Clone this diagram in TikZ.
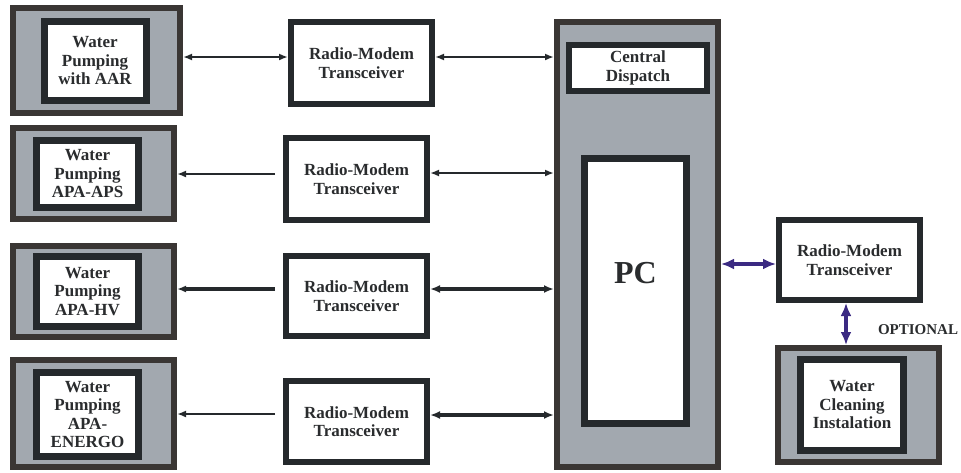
\documentclass[tikz,border=0pt]{standalone}
\usepackage{fontspec}
\setmainfont{Liberation Serif}
\usetikzlibrary{arrows.meta,positioning}
\definecolor{WPFrame}{HTML}{3A3634}
\definecolor{WPGray}{HTML}{A2A8AF}
\definecolor{WPDark}{HTML}{25292C}
\definecolor{WPText}{HTML}{2A2C2E}
\definecolor{WPPurple}{HTML}{3B2A82}

\begin{document}
\begin{tikzpicture}[
  x=1pt,y=-1pt,
  outer/.style={draw=WPFrame,fill=WPGray,line width=6pt,inner sep=0pt},
  inner/.style={draw=WPDark,fill=white,line width=7pt,inner sep=0pt,minimum width=102pt,align=center,text=WPText,font=\bfseries\fontsize{17}{18.5}\selectfont},
  modem/.style={draw=WPDark,fill=white,line width=6pt,inner sep=0pt,minimum width=141pt,align=center,text=WPText,font=\bfseries\fontsize{17}{18.5}\selectfont},
  link/.style={{Latex[length=9pt,width=7pt]}-{Latex[length=9pt,width=7pt]},draw=WPDark,line width=2.5pt},
  fat/.style={{Latex[length=10pt,width=8pt]}-{Latex[length=10pt,width=8pt]},draw=WPDark,line width=4.3pt},
  back/.style={-{Latex[length=9pt,width=7pt]},draw=WPDark,line width=2.7pt},
  optlink/.style={{Latex[length=13pt,width=11pt]}-{Latex[length=13pt,width=11pt]},draw=WPPurple,line width=3.5pt}
]
\useasboundingbox (0,0) rectangle (961,472);

% pumping stations
\node[outer,minimum width=167pt,minimum height=105pt] (st1) at (96.5,60.5) {};
\node[inner,minimum height=79pt] (pump1) at (95,61) {Water\\Pumping\\with AAR};
\node[outer,minimum width=161pt,minimum height=91pt] (st2) at (93.5,173.5) {};
\node[inner,minimum height=67pt] (pump2) at (87.5,174) {Water\\Pumping\\APA-APS};
\node[outer,minimum width=161pt,minimum height=91pt] (st3) at (93.5,291.5) {};
\node[inner,minimum height=70pt] (pump3) at (87.5,291.5) {Water\\Pumping\\APA-HV};
\node[outer,minimum width=161pt,minimum height=107pt] (st4) at (93.5,413.5) {};
\node[inner,minimum height=84pt] (pump4) at (87.5,414.5) {Water\\Pumping\\APA-\\ENERGO};

% transceivers
\node[modem,minimum height=82pt] (rm1) at (361.5,63) {Radio-Modem\\Transceiver};
\node[modem,minimum height=82pt] (rm2) at (356.5,179) {Radio-Modem\\Transceiver};
\node[modem,minimum height=80pt] (rm3) at (356.5,296) {Radio-Modem\\Transceiver};
\node[modem,minimum height=81pt] (rm4) at (356.5,421.5) {Radio-Modem\\Transceiver};

% dispatch centre
\node[outer,minimum width=161pt,minimum height=445pt] (centre) at (637.5,244.5) {};
\node[modem,minimum width=138pt,minimum height=46pt] (disp) at (638,68) {Central\\Dispatch};
\node[inner,minimum height=265pt,label={[font=\bfseries\fontsize{32}{34}\selectfont,text=WPText,yshift=18pt]center:PC}] (pc) at (635.5,291) {};

% optional cleaning plant
\node[modem,minimum height=80pt] (rm5) at (849.5,260) {Radio-Modem\\Transceiver};
\node[outer,minimum width=161pt,minimum height=114pt] (st5) at (858.5,405) {};
\node[inner,minimum width=103pt,minimum height=91pt] (clean) at (852,405) {Water\\Cleaning\\Instalation};
\node[font=\bfseries\fontsize{15}{17}\selectfont,text=WPText] (opt) at (918,330) {OPTIONAL};

\coordinate (f2) at (275,174);
\coordinate (f3) at (275,289);
\coordinate (f4) at (275,414);

\draw[link] (st1.east|-0,57) -- (rm1.west|-0,57);
\draw[link] (rm1.east|-0,57) -- (centre.west|-0,57);
\draw[back] (f2) -- (st2.east|-f2);
\draw[link] (rm2.east|-0,173) -- (centre.west|-0,173);
\draw[back,line width=4.3pt] (f3) -- (st3.east|-f3);
\draw[fat] (rm3.east|-0,289) -- (centre.west|-0,289);
\draw[back] (f4) -- (st4.east|-f4);
\draw[fat] (rm4.east|-0,415) -- (centre.west|-0,415);
\draw[optlink] (centre.east|-0,264) -- (rm5.west|-0,264);
\draw[optlink] (rm5.south-|846,0) -- (st5.north-|846,0);
\end{tikzpicture}
\end{document}
